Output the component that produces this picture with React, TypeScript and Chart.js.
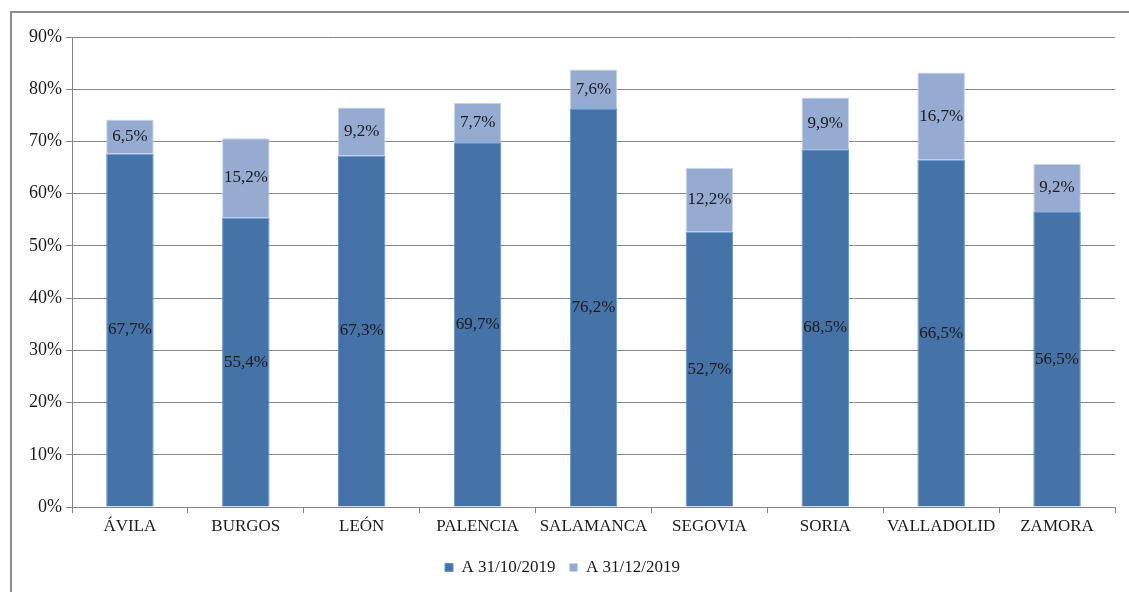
import React, { useEffect, useRef } from "react";
import { Chart, registerables } from "chart.js";

Chart.register(...registerables);

const categories = ["ÁVILA", "BURGOS", "LEÓN", "PALENCIA", "SALAMANCA", "SEGOVIA", "SORIA", "VALLADOLID", "ZAMORA"];
const seriesOct = [67.7, 55.4, 67.3, 69.7, 76.2, 52.7, 68.5, 66.5, 56.5];
const seriesDec = [6.5, 15.2, 9.2, 7.7, 7.6, 12.2, 9.9, 16.7, 9.2];
const seriesNames = ["A 31/10/2019", "A 31/12/2019"];
const yTicks = [0, 10, 20, 30, 40, 50, 60, 70, 80, 90];

const FONT = "'Liberation Serif', 'Times New Roman', serif";
const FS = 18;

const fmt = (v: number) => v.toFixed(1).replace(".", ",") + "%";

const framePlugin = {
  id: "frame",
  beforeDraw(chart: any) {
    const ctx = chart.ctx;
    ctx.save();
    ctx.fillStyle = "#ffffff";
    ctx.fillRect(0, 0, chart.width, chart.height);
    ctx.strokeStyle = "#8c8c8c";
    ctx.lineWidth = 2;
    ctx.beginPath();
    ctx.moveTo(11, chart.height + 5);
    ctx.lineTo(11, 12);
    ctx.lineTo(chart.width + 5, 12);
    ctx.stroke();
    ctx.restore();
  },
};

const labelPlugin = {
  id: "segLabels",
  afterDatasetsDraw(chart: any) {
    const ctx = chart.ctx;
    ctx.save();
    ctx.font = `${FS - 1}px ${FONT}`;
    ctx.fillStyle = "#1a1a1a";
    ctx.textAlign = "center";
    ctx.textBaseline = "middle";
    chart.data.datasets.forEach((ds: any, di: number) => {
      const meta = chart.getDatasetMeta(di);
      meta.data.forEach((bar: any, i: number) => {
        const v = ds.data[i];
        const cy = (bar.y + bar.base) / 2;
        ctx.fillText(fmt(v), bar.x, cy);
      });
    });
    ctx.restore();
  },
};

export default function App() {
  const ref = useRef<HTMLCanvasElement>(null);
  useEffect(() => {
    if (!ref.current) return;
    const chart = new Chart(ref.current, {
      type: "bar",
      data: {
        labels: categories,
        datasets: [
          {
            label: seriesNames[0],
            data: seriesOct,
            backgroundColor: "#4572A7",
            borderColor: "#5B95D8",
            borderWidth: 1,
            categoryPercentage: 1,
            barPercentage: 0.41,
          },
          {
            label: seriesNames[1],
            data: seriesDec,
            backgroundColor: "#95ABD2",
            borderColor: "#C9D5EA",
            borderWidth: 1,
            categoryPercentage: 1,
            barPercentage: 0.41,
          },
        ],
      },
      options: {
        responsive: false,
        animation: false,
        layout: { padding: { left: 10, right: 14, top: 37, bottom: 6 } },
        plugins: {
          legend: {
            position: "bottom",
            labels: {
              font: { family: FONT, size: FS - 1 },
              color: "#1a1a1a",
              boxWidth: 8,
              boxHeight: 8,
              padding: 14,
              useBorderRadius: false,
            },
          },
          tooltip: { enabled: false },
        },
        scales: {
          x: {
            stacked: true,
            grid: { display: true, drawOnChartArea: false, offset: true, tickLength: 6, color: "#868686" },
            border: { color: "#868686" },
            ticks: { font: { family: FONT, size: FS - 1 }, color: "#1a1a1a", padding: 3, maxRotation: 0 },
            afterFit: (s: any) => {
              s.height = 38;
            },
          },
          y: {
            stacked: true,
            min: 0,
            max: 90,
            afterBuildTicks: (s: any) => {
              s.ticks = yTicks.map((v) => ({ value: v }));
            },
            afterFit: (s: any) => {
              s.width = 62;
              s.paddingTop = 0;
            },
            grid: { color: "#868686", tickLength: 6 },
            border: { color: "#868686" },
            ticks: {
              font: { family: FONT, size: FS },
              color: "#1a1a1a",
              padding: 4,
              callback: (v: any) => v + "%",
            },
          },
        },
      },
      plugins: [framePlugin, labelPlugin],
    });
    return () => chart.destroy();
  }, []);
  return (
    <div style={{ position: "absolute", left: 0, top: 0, width: 1129, height: 592 }}>
      <canvas ref={ref} width={1129} height={592} style={{ width: 1129, height: 592 }} />
    </div>
  );
}
